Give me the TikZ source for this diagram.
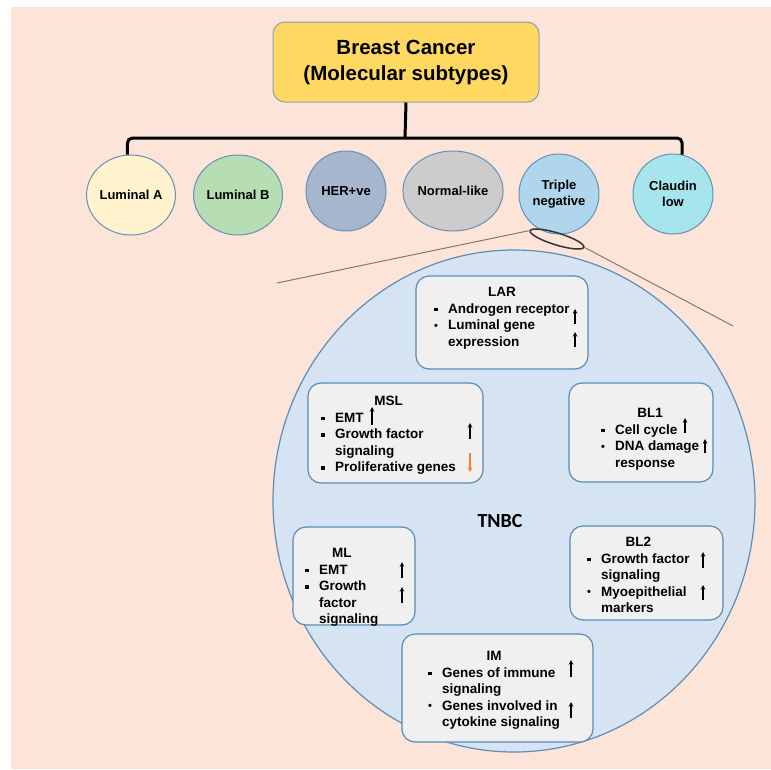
\documentclass[tikz,border=0pt]{standalone}
\usepackage{fontspec}
\setmainfont{Liberation Sans}
\newfontfamily\tnbcfont{Carlito}
\usepackage{tikz}
\usetikzlibrary{shapes.geometric}
\definecolor{bgpink}{RGB}{253,228,217}
\definecolor{titlefill}{RGB}{255,216,98}
\definecolor{titleline}{RGB}{135,160,185}
\definecolor{circline}{RGB}{100,145,185}
\definecolor{lumA}{RGB}{255,242,204}
\definecolor{lumB}{RGB}{182,222,178}
\definecolor{herpos}{RGB}{166,182,204}
\definecolor{normlike}{RGB}{204,204,204}
\definecolor{trineg}{RGB}{176,214,238}
\definecolor{claudin}{RGB}{166,229,236}
\definecolor{bigfill}{RGB}{213,227,243}
\definecolor{bigline}{RGB}{92,142,184}
\definecolor{boxfill}{RGB}{240,240,240}
\definecolor{boxline}{RGB}{90,140,180}
\definecolor{zoomcol}{RGB}{140,118,105}
\definecolor{orangearr}{RGB}{245,125,40}
\newcommand\sqb{\makebox[14pt][l]{\rule[2pt]{3.5pt}{3.5pt}}}
\newcommand\rdb{\makebox[14pt][l]{\fontsize{11}{11}\selectfont\raisebox{0.3pt}{•}}}
\newcommand\ind{\hspace*{14pt}}
\tikzset{
	titlebox/.style={rectangle,rounded corners=12pt,draw=titleline,fill=titlefill,line width=1pt,minimum width=266pt,minimum height=80pt,align=center,font=\fontsize{20.5}{26}\selectfont\bfseries},
	bracket/.style={line width=3pt,black,rounded corners=5pt},
	subtype/.style={ellipse,draw=circline,line width=1pt,minimum width=80pt,minimum height=80pt,inner sep=0pt,align=center,font=\fontsize{13}{16}\selectfont\bfseries},
	bigcirc/.style={ellipse,draw=bigline,fill=bigfill,line width=1.2pt,minimum width=482pt,minimum height=502pt,inner sep=0pt},
	zoomline/.style={draw=zoomcol,line width=1pt},
	lens/.style={ellipse,draw=black!80,line width=1.5pt,minimum width=56pt,minimum height=12pt,inner sep=0pt},
	subbox/.style={rectangle,rounded corners=13pt,draw=boxline,fill=boxfill,line width=1.2pt},
	subtxt/.style={anchor=north west,inner sep=0pt,font=\fontsize{13.5}{16.5}\selectfont\bfseries},
	uparr/.style={->,line width=1.1pt},
	downarr/.style={->,line width=1.1pt,draw=orangearr},
	>=stealth,
	}

\begin{document}
\begin{tikzpicture}[x=1pt,y=-1pt]
\useasboundingbox (0,0) rectangle (771,769);
\fill[bgpink] (11,7) rectangle (771,769);
% TNBC CIRCLE
\node[bigcirc] (tnbc) at (514,501) {};
\node[font=\tnbcfont\fontsize{20}{24}\selectfont\bfseries] (tnbclbl) at (500,521) {TNBC};
% TITLE
\node[titlebox] (title) at (406,62) {Breast Cancer\\(Molecular subtypes)};
% SUBTYPES
\node[subtype,fill=lumA] (luma) at (131,195) {Luminal A};
\node[subtype,fill=lumB] (lumb) at (238,195) {Luminal B};
\node[subtype,fill=herpos] (her) at (346,191) {HER+ve};
\node[subtype,fill=normlike] (norm) at (453,191) {Normal-like};
\node[subtype,fill=trineg] (trip) at (559,194) {Triple\\negative};
\node[subtype,fill=claudin] (cldn) at (673,194) {Claudin\\low};
% BRACKET
\coordinate (jn) at (405,138);
\draw[bracket] (title.south) -- (jn);
\draw[bracket] (luma.95) |- (jn) -| (cldn.77);
% ZOOM
\node[lens,rotate=-17] (lens) at (557,239) {};
\coordinate (zl) at (277,283);
\coordinate (zr) at (733,326);
\draw[zoomline] (lens.west) -- (zl);
\draw[zoomline] (lens.east) -- (zr);
% SUBGROUP BOXES
\node[subbox,minimum width=172pt,minimum height=93pt] (lar) at (502,322.5) {};
\node[subbox,minimum width=175pt,minimum height=100pt] (msl) at (395.5,433) {};
\node[subbox,minimum width=144pt,minimum height=99pt] (bl1) at (641,432.5) {};
\node[subbox,minimum width=122pt,minimum height=98pt] (ml) at (354,576) {};
\node[subbox,minimum width=153pt,minimum height=94pt] (bl2) at (646.5,573) {};
\node[subbox,minimum width=191pt,minimum height=108pt] (im) at (497.5,688) {};
% TEXTS
\node[subtxt] (lartxt) at (434,285) {\begin{tabular}{@{}l@{}}\multicolumn{1}{c}{LAR}\\ \sqb Androgen receptor\\ \rdb Luminal gene\\ \ind expression\end{tabular}};
\node[subtxt] (msltxt) at (321,394) {\begin{tabular}{@{}l@{}}\multicolumn{1}{c}{MSL}\\ \sqb EMT\\ \sqb Growth factor\\ \ind signaling\\ \sqb Proliferative genes\end{tabular}};
\node[subtxt] (bl1txt) at (601,406) {\begin{tabular}{@{}l@{}}\multicolumn{1}{c}{BL1}\\ \sqb Cell cycle\\ \rdb DNA damage\\ \ind response\end{tabular}};
\node[subtxt] (mltxt) at (305,546) {\begin{tabular}{@{}l@{}}\multicolumn{1}{c}{ML}\\ \sqb EMT\\ \sqb Growth\\ \ind factor\\ \ind signaling\end{tabular}};
\node[subtxt] (bl2txt) at (587,535) {\begin{tabular}{@{}l@{}}\multicolumn{1}{c}{BL2}\\ \sqb Growth factor\\ \ind signaling\\ \rdb Myoepithelial\\ \ind markers\end{tabular}};
\node[subtxt] (imtxt) at (428,649) {\begin{tabular}{@{}l@{}}\multicolumn{1}{c}{IM}\\ \sqb Genes of immune\\ \ind signaling\\ \rdb Genes involved in\\ \ind cytokine signaling\end{tabular}};
% ARROWS
\draw[uparr] (575,324) -- (575,309);
\draw[uparr] (575,347) -- (575,332);
\draw[uparr] (372,425) -- (372,407);
\draw[uparr] (470,439) -- (470,423);
\draw[downarr] (470,453) -- (470,472);
\draw[uparr] (685,433) -- (685,418);
\draw[uparr] (705,453) -- (705,439);
\draw[uparr] (402,578) -- (402,562);
\draw[uparr] (402,603) -- (402,587);
\draw[uparr] (703,568) -- (703,552);
\draw[uparr] (703,600) -- (703,585);
\draw[uparr] (571,677) -- (571,660);
\draw[uparr] (571,718) -- (571,702);
\end{tikzpicture}
\end{document}
